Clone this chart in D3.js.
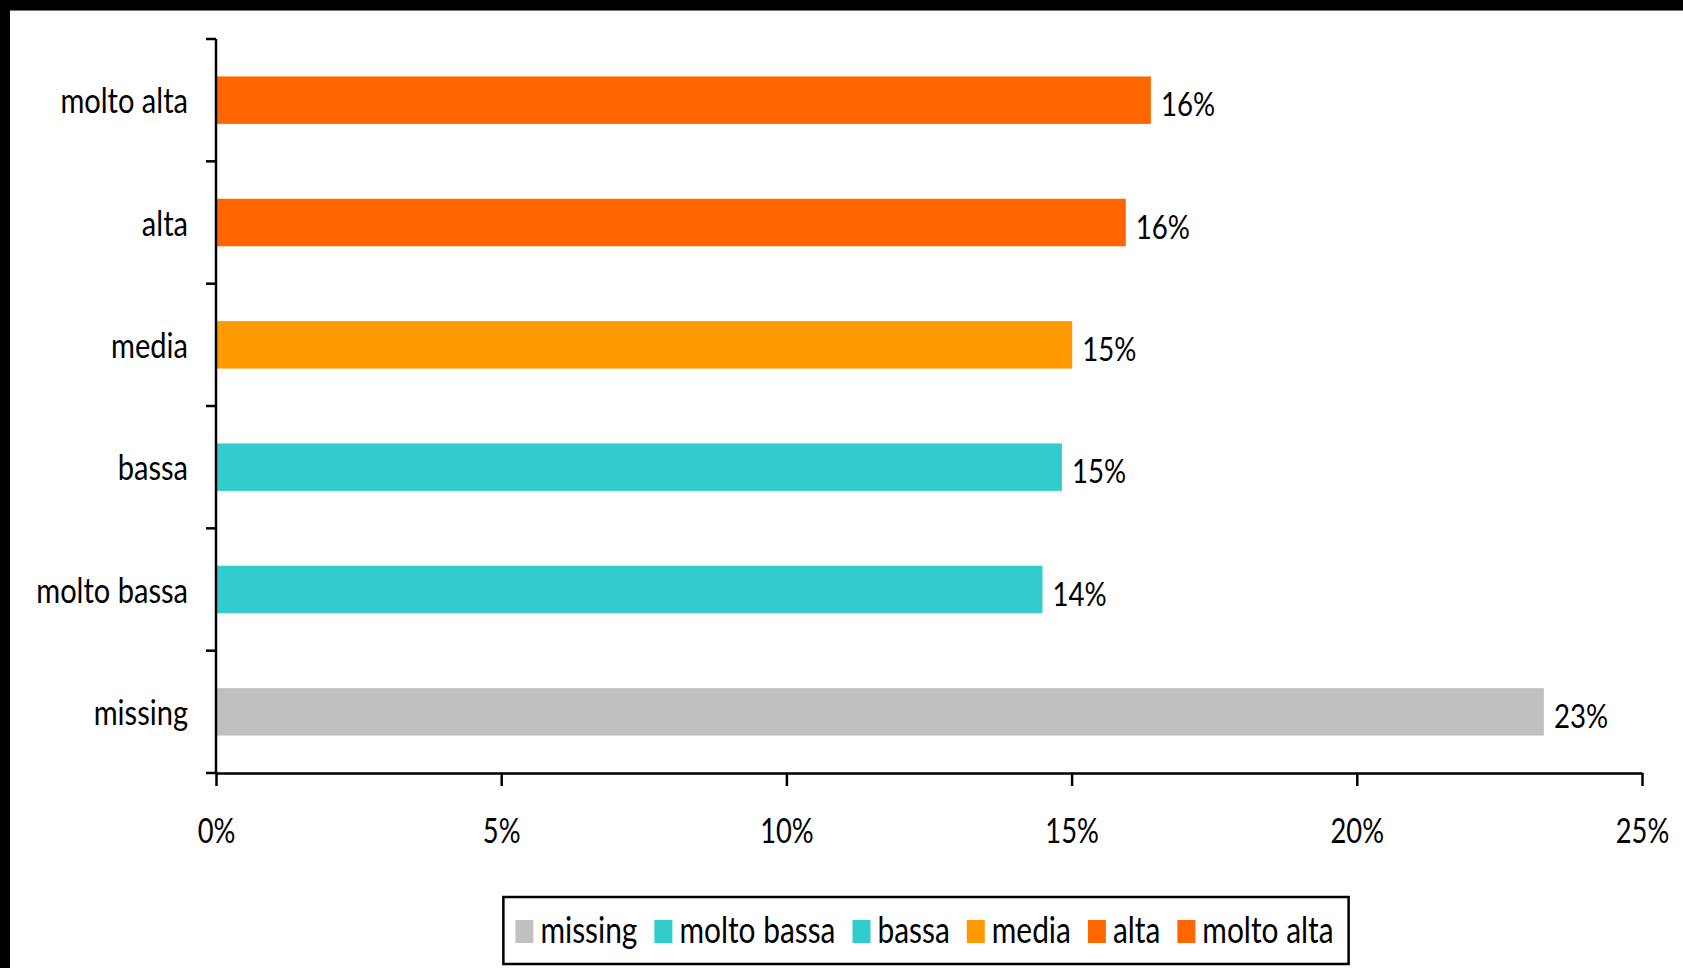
<!DOCTYPE html>
<html>
<head>
<meta charset="utf-8">
<script src="https://cdn.jsdelivr.net/npm/d3@7"></script>
<style>
  html, body { margin: 0; padding: 0; background: #fff; }
  svg { display: block; }
  text { font-family: Lato, "Open Sans", sans-serif; fill: #000; }
</style>
</head>
<body>
<svg id="chart" width="1683" height="968"></svg>
<script>
// Categories, top to bottom
const categories = ["molto alta", "alta", "media", "bassa", "molto bassa", "missing"];
// Share of each class (%)
const shares = [16.39, 15.95, 15.01, 14.83, 14.49, 23.28];
const barColors = ["#FF6600", "#FF6600", "#FF9900", "#33CCCC", "#33CCCC", "#C0C0C0"];
// Legend order
const legendItems = ["missing", "molto bassa", "bassa", "media", "alta", "molto alta"];
const legendColors = ["#C0C0C0", "#33CCCC", "#33CCCC", "#FF9900", "#FF6600", "#FF6600"];
const xTicks = [0, 5, 10, 15, 20, 25];

const W = 1683, H = 968;
// horizontal squeeze of the text, per text group
const stretchCat = 0.83, stretchVal = 0.85, stretchTick = 0.78, stretchLegend = 0.83;
const plot = { left: 216, right: 1642, top: 39, bottom: 773 };

const svg = d3.select("#chart");

// Frame: dark bands along the top and left edge
svg.append("rect").attr("x", 0).attr("y", 0).attr("width", W).attr("height", H).attr("fill", "#fff");
svg.append("rect").attr("x", 0).attr("y", 0).attr("width", W).attr("height", 10).attr("fill", "#000");
svg.append("rect").attr("x", 0).attr("y", 0).attr("width", 10).attr("height", H).attr("fill", "#000");
svg.append("line").attr("x1", 10).attr("x2", W).attr("y1", 10.5).attr("y2", 10.5)
  .attr("stroke", "#777").attr("stroke-width", 1);

const x = d3.scaleLinear().domain([0, 25]).range([plot.left, plot.right]);
const y = d3.scaleBand().domain(categories).range([plot.top, plot.bottom])
  .paddingInner(0.612).paddingOuter(0.306);

const data = categories.map((c, i) => ({ cat: c, v: shares[i], color: barColors[i] }));

// Bars
svg.append("g").selectAll("rect").data(data).join("rect")
  .attr("x", x(0))
  .attr("y", d => y(d.cat))
  .attr("width", d => x(d.v) - x(0))
  .attr("height", y.bandwidth())
  .attr("fill", d => d.color);

// Value labels
svg.append("g").selectAll("text").data(data).join("text")
  .attr("transform", d => `translate(${x(d.v) + 10},${y(d.cat) + y.bandwidth() / 2 + 16}) scale(${stretchVal},1)`)
  .style("font-size", "32.5px")
  .text(d => Math.round(d.v) + "%");

const axisStroke = 2.5;

// Y axis: category labels, ticks between categories
const yAxis = svg.append("g").attr("transform", `translate(${plot.left},0)`)
  .call(d3.axisLeft(y).tickSize(0).tickPadding(0));
yAxis.select(".domain").remove();
yAxis.selectAll(".tick text")
  .attr("x", null).attr("dy", null)
  .attr("transform", `translate(-28,13) scale(${stretchCat},1)`)
  .style("font-size", "35px")
  .style("font-family", null);

const gap = (y.step() - y.bandwidth()) / 2;
const bounds = categories.map(c => y(c) - gap).concat([y(categories[categories.length - 1]) + y.bandwidth() + gap]);
svg.append("g").selectAll("line").data(bounds).join("line")
  .attr("x1", plot.left - 10).attr("x2", plot.left)
  .attr("y1", d => d).attr("y2", d => d)
  .attr("stroke", "#000").attr("stroke-width", axisStroke);
svg.append("line")
  .attr("x1", plot.left).attr("x2", plot.left)
  .attr("y1", plot.top).attr("y2", plot.bottom)
  .attr("stroke", "#000").attr("stroke-width", axisStroke);

// X axis
const xAxis = svg.append("g").attr("transform", `translate(0,${plot.bottom})`)
  .call(d3.axisBottom(x).tickValues(xTicks).tickSize(13).tickSizeOuter(0).tickFormat(d => d + "%"));
xAxis.select(".domain").attr("stroke", "#000").attr("stroke-width", axisStroke);
xAxis.selectAll(".tick line").attr("stroke", "#000").attr("stroke-width", axisStroke);
xAxis.selectAll(".tick text")
  .attr("y", null).attr("dy", null)
  .attr("transform", `translate(0,70) scale(${stretchTick},1)`)
  .style("font-size", "35px")
  .style("font-family", null);

// Legend
const legend = svg.append("g");
const lgFont = 36, sw = 18, sh = 23, textGap = 7, itemGap = 17;
const baseY = 943;
let cx = 0;
const items = legendItems.map((name, i) => {
  const g = legend.append("g");
  g.append("rect").attr("x", 0).attr("y", baseY - sh).attr("width", sw).attr("height", sh)
    .attr("fill", legendColors[i]);
  const t = g.append("text")
    .attr("transform", `translate(${sw + textGap},${baseY}) scale(${stretchLegend},1)`)
    .style("font-size", lgFont + "px")
    .text(name);
  const w = sw + textGap + t.node().getComputedTextLength() * stretchLegend;
  g.attr("transform", `translate(${cx},0)`);
  cx += w + itemGap;
  return g;
});
const contentW = cx - itemGap;
const padL = 12, padR = 15;
const boxW = contentW + padL + padR;
const boxX = 926 - boxW / 2;
legend.insert("rect", ":first-child")
  .attr("x", boxX).attr("y", 897).attr("width", boxW).attr("height", 67)
  .attr("fill", "#fff").attr("stroke", "#000").attr("stroke-width", 2.5);
items.forEach(g => {
  const tx = +g.attr("transform").match(/translate\(([-\d.]+)/)[1];
  g.attr("transform", `translate(${boxX + padL + tx},0)`);
});
</script>
</body>
</html>
